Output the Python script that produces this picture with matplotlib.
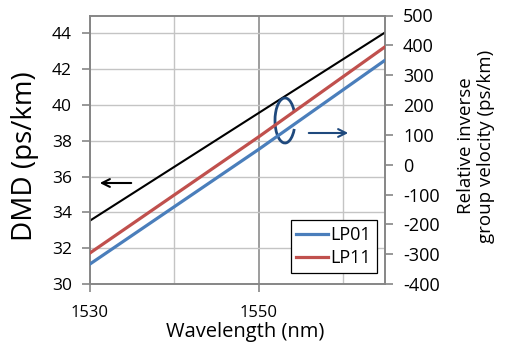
import matplotlib
matplotlib.use("Agg")
import matplotlib.pyplot as plt
from matplotlib.patches import Arc
from matplotlib.ticker import MultipleLocator, FixedLocator

plt.rcParams['font.family'] = ['Open Sans', 'DejaVu Sans']
plt.rcParams['axes.unicode_minus'] = False

wavelength = [1530, 1550, 1565]
dmd = [33.54, 39.55, 44.05]
lp01 = [-333, 51, 350]
lp11 = [-296, 93, 395]
x_major = [1530, 1550]
x_minor = [1540, 1560]

blue = '#4A7EBB'
red = '#C0504D'
dark = '#1F497D'
grid_c = '#C4C4C4'
spine_c = '#868686'

W, H = 507, 343
fig = plt.figure(figsize=(W/100, H/100), dpi=100)
ax = fig.add_axes([90/W, 1-284/H, 295/W, 268.5/H])
ax2 = ax.twinx()

ax.set_xlim(1530, 1565)
ax.set_ylim(30, 45)
ax2.set_ylim(-400, 500)

ax.xaxis.set_major_locator(FixedLocator(x_major))
ax.xaxis.set_minor_locator(FixedLocator(x_minor))
ax.yaxis.set_major_locator(MultipleLocator(2))
ax2.yaxis.set_major_locator(MultipleLocator(100))

ax.grid(True, which='major', axis='y', color=grid_c, lw=1.0)
ax.grid(True, which='minor', axis='x', color=grid_c, lw=1.0)
ax.grid(True, which='major', axis='x', color='#8C8C8C', lw=1.2)
ax.set_axisbelow(True)

for a in (ax, ax2):
    for s in a.spines.values():
        s.set_color(spine_c)
        s.set_linewidth(1.2)

ax.tick_params(axis='both', which='major', direction='out', length=6, color=spine_c, width=1.2)
ax.tick_params(axis='x', which='minor', length=0)
ax.tick_params(axis='y', labelsize=12.5, pad=7)
ax.tick_params(axis='x', labelsize=12, pad=9)
ax2.tick_params(axis='y', direction='out', length=6, color=spine_c, width=1.2, labelsize=13, pad=7)

ax.plot(wavelength, dmd, color='black', lw=1.5, zorder=3)
ax2.plot(wavelength, lp01, color=blue, lw=2.3, label='LP01', zorder=3)
ax2.plot(wavelength, lp11, color=red, lw=2.3, label='LP11', zorder=3)

fig.text(245/W, 1-342/H, 'Wavelength (nm)', fontsize=14.5, ha='center', va='bottom')
fig.text(25/W, 1-156/H, 'DMD (ps/km)', fontsize=20, ha='center', va='center', rotation=90)
fig.text(476/W, 1-146/H, 'Relative inverse\ngroup velocity (ps/km)', fontsize=13.5,
         ha='center', va='center', rotation=90, multialignment='center', linespacing=1.15)

leg = ax2.legend(loc='lower right', bbox_to_anchor=((376.7-90)/295, (284-272.7)/268.5),
                 fontsize=13, frameon=True, fancybox=False, edgecolor='black', framealpha=1,
                 handlelength=1.75, borderpad=0.3, labelspacing=0.3, handletextpad=0.15,
                 borderaxespad=0)
leg.get_frame().set_linewidth(0.9)

def fx(px):
    return (px - 90) / 295
def fy(py):
    return (284 - py) / 268.5

ax.annotate('', xy=(fx(97), fy(183)), xytext=(fx(134), fy(183)), xycoords='axes fraction',
            arrowprops=dict(arrowstyle='->', color='black', lw=1.5, mutation_scale=14))
ax.annotate('', xy=(fx(351), fy(133)), xytext=(fx(306), fy(133)), xycoords='axes fraction',
            arrowprops=dict(arrowstyle='->', color=dark, lw=1.5, mutation_scale=14))
arc = Arc((fx(285), fy(120.5)), 20/295, 45/268.5, theta1=45, theta2=315,
          transform=ax.transAxes, color=dark, lw=2.0, zorder=5)
ax.add_patch(arc)

fig.savefig('out.png', dpi=100)
